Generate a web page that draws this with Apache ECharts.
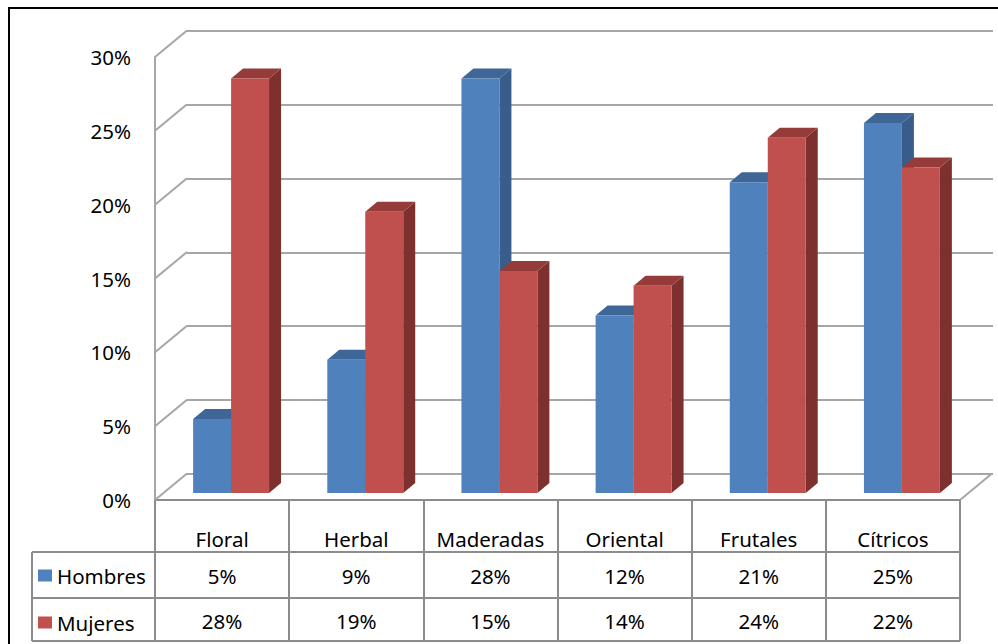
<!DOCTYPE html>
<html>
<head>
<meta charset="utf-8">
<script src="https://cdn.jsdelivr.net/npm/echarts@6/dist/echarts.min.js"></script>
<style>
html,body{margin:0;padding:0;background:#fff;}
#chart{width:998px;height:644px;}
</style>
</head>
<body>
<div id="chart"></div>
<script>
// ---- data ----
const categories = ['Floral', 'Herbal', 'Maderadas', 'Oriental', 'Frutales', 'Cítricos'];
const seriesNames = ['Hombres', 'Mujeres'];
const hombres = [0.05, 0.09, 0.28, 0.12, 0.21, 0.25];
const mujeres = [0.28, 0.19, 0.15, 0.14, 0.24, 0.22];
const yTicks = [0, 0.05, 0.10, 0.15, 0.20, 0.25, 0.30];

// ---- style ----
const FONT = '"Noto Sans", sans-serif';
const FS = 20.5;
const GRID_C = '#a6a6a6';
const TABLE_C = '#8c8c8c';
const palettes = [
  { front: '#4f81bd', side: '#385d8a', top: '#3e6697' },
  { front: '#c0504d', side: '#7d302e', top: '#953c3a' }
];
const DEPTH_DX = 32, DEPTH_DY = -26.5;
const BAR_DX = 12, BAR_DY = -10;

function pct(v) { return Math.round(v * 100) + '%'; }

function barRenderer(idx) {
  const pal = palettes[idx];
  return function (params, api) {
    const c = api.value(0), v = api.value(1);
    const top = api.coord([c, v]);
    const base = api.coord([c, 0]);
    const bw = api.size([1, 0])[0] * 0.283;
    const x0 = top[0] + (idx === 0 ? -bw : 0);
    const x1 = x0 + bw;
    const yt = top[1], yb = base[1];
    return {
      type: 'group',
      children: [
        { type: 'polygon', shape: { points: [[x1, yt], [x1 + BAR_DX, yt + BAR_DY], [x1 + BAR_DX, yb + BAR_DY], [x1, yb]] }, style: { fill: pal.side } },
        { type: 'polygon', shape: { points: [[x0, yt], [x0 + BAR_DX, yt + BAR_DY], [x1 + BAR_DX, yt + BAR_DY], [x1, yt]] }, style: { fill: pal.top } },
        { type: 'rect', shape: { x: x0, y: yt, width: bw, height: yb - yt }, style: { fill: pal.front } }
      ]
    };
  };
}

const chart = echarts.init(document.getElementById('chart'), null, { renderer: 'svg' });

const option = {
  backgroundColor: '#fff',
  animation: false,
  textStyle: { fontFamily: FONT },
  legend: {
    orient: 'vertical',
    left: 38, top: 565,
    padding: 0,
    itemWidth: 14, itemHeight: 12,
    itemGap: 26,
    icon: 'rect',
    data: seriesNames,
    textStyle: { fontSize: FS, color: '#000', fontFamily: FONT, lineHeight: 20 }
  },
  grid: [
    { left: 155, right: 38, top: 57, bottom: 144 },   // front axis / table
    { left: 187, right: 5, top: 30.5, bottom: 170 },  // back wall
    { left: 164, right: 29, top: 49, bottom: 151 }    // bar plane
  ],
  xAxis: [
    {
      gridIndex: 0, type: 'category', data: categories,
      axisLine: { show: true, lineStyle: { color: TABLE_C, width: 2 } },
      axisTick: { show: true, interval: 0, length: 141, lineStyle: { color: TABLE_C, width: 2 } },
      axisLabel: { interval: 0, color: '#000', fontSize: FS, fontFamily: FONT, margin: 27, lineHeight: 24 }
    },
    { gridIndex: 1, type: 'category', data: categories, show: false },
    { gridIndex: 2, type: 'category', data: categories, show: false }
  ],
  yAxis: [
    {
      gridIndex: 0, type: 'value', min: 0, max: 0.30, interval: 0.05,
      axisLine: { show: true, lineStyle: { color: GRID_C, width: 2 } },
      axisTick: { show: false },
      splitLine: { show: false },
      axisLabel: { color: '#000', fontSize: FS, fontFamily: FONT, margin: 24, formatter: pct, padding: [4, 0, 0, 0] }
    },
    {
      gridIndex: 1, type: 'value', min: 0, max: 0.30, interval: 0.05,
      axisLine: { show: false }, axisTick: { show: false }, axisLabel: { show: false },
      splitLine: { show: true, lineStyle: { color: GRID_C, width: 2 } }
    },
    { gridIndex: 2, type: 'value', min: 0, max: 0.30, show: false, splitLine: { show: false } }
  ],
  series: [
    {
      // side wall diagonals + floor right edge
      type: 'custom', xAxisIndex: 0, yAxisIndex: 0, silent: true, z: 1,
      data: yTicks.map(v => [0, v]),
      renderItem: function (params, api) {
        const cs = params.coordSys;
        const y = api.coord([0, api.value(1)])[1];
        const children = [{
          type: 'line', shape: { x1: cs.x, y1: y, x2: cs.x + DEPTH_DX, y2: y + DEPTH_DY },
          style: { stroke: GRID_C, lineWidth: 2 }
        }];
        if (api.value(1) === 0) {
          children.push({
            type: 'line', shape: { x1: cs.x + cs.width, y1: y, x2: cs.x + cs.width + DEPTH_DX, y2: y + DEPTH_DY },
            style: { stroke: GRID_C, lineWidth: 2 }
          });
        }
        return { type: 'group', children: children };
      }
    },
    {
      name: seriesNames[0], type: 'custom', xAxisIndex: 2, yAxisIndex: 2, z: 3,
      itemStyle: { color: palettes[0].front },
      data: hombres.map((v, i) => [i, v]),
      renderItem: barRenderer(0)
    },
    {
      name: seriesNames[1], type: 'custom', xAxisIndex: 2, yAxisIndex: 2, z: 4,
      itemStyle: { color: palettes[1].front },
      data: mujeres.map((v, i) => [i, v]),
      renderItem: barRenderer(1)
    },
    {
      // data table values + row lines
      type: 'custom', xAxisIndex: 0, yAxisIndex: 0, silent: true, z: 5,
      data: categories.map((c, i) => [i, hombres[i], mujeres[i]]),
      renderItem: function (params, api) {
        const cs = params.coordSys;
        const x = api.coord([api.value(0), 0])[0];
        const yb = cs.y + cs.height;
        const children = [
          { type: 'text', style: { x: x, y: yb + 75.5, text: pct(api.value(1)), fill: '#000', font: FS + 'px ' + FONT, textAlign: 'center', textVerticalAlign: 'middle' } },
          { type: 'text', style: { x: x, y: yb + 121, text: pct(api.value(2)), fill: '#000', font: FS + 'px ' + FONT, textAlign: 'center', textVerticalAlign: 'middle' } }
        ];
        if (params.dataIndex === 0) {
          const L = 32, R = cs.x + cs.width;
          [52, 98, 141].forEach(function (dy) {
            children.push({ type: 'line', shape: { x1: L, y1: yb + dy, x2: R, y2: yb + dy }, style: { stroke: TABLE_C, lineWidth: 2 } });
          });
          children.push({ type: 'line', shape: { x1: L, y1: yb + 52, x2: L, y2: yb + 141 }, style: { stroke: TABLE_C, lineWidth: 2 } });
        }
        return { type: 'group', children: children };
      }
    }
  ],
  graphic: [
    { type: 'rect', shape: { x: 9, y: 8, width: 1100, height: 800 }, style: { fill: 'none', stroke: '#000', lineWidth: 2 }, z: 100, silent: true }
  ]
};
chart.setOption(option);
</script>
</body>
</html>
